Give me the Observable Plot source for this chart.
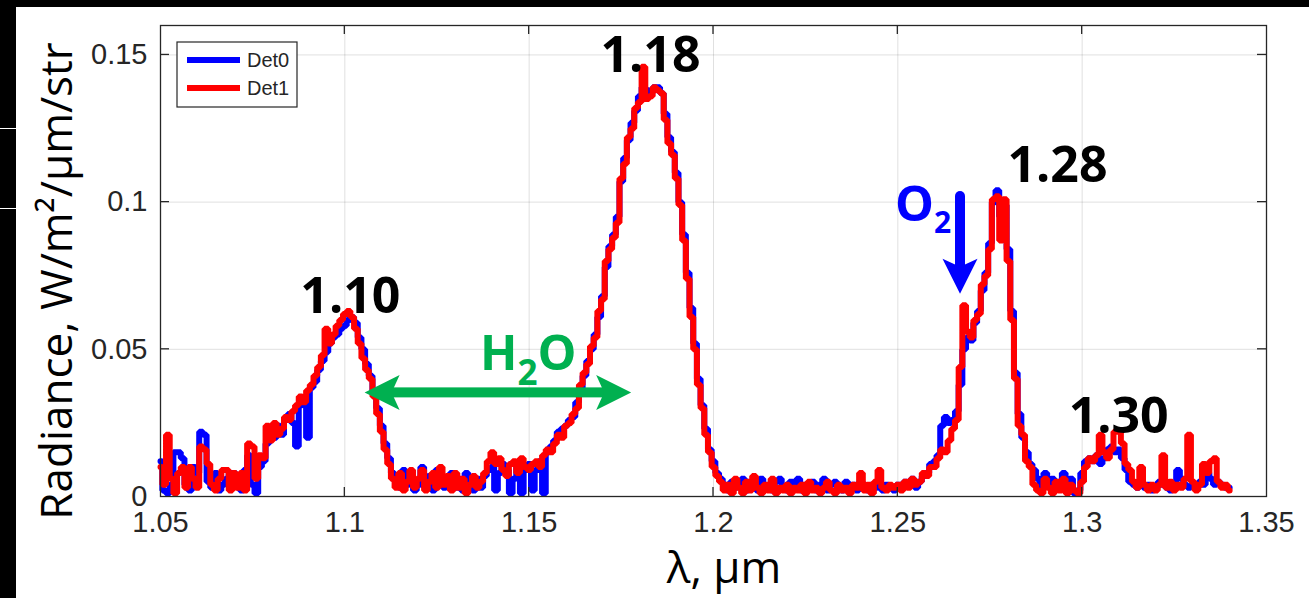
<!DOCTYPE html>
<html>
<head>
<meta charset="utf-8">
<script src="https://cdn.jsdelivr.net/npm/d3@7"></script>
<script src="https://cdn.jsdelivr.net/npm/@observablehq/plot@0.6"></script>
<style>
  html, body { margin: 0; padding: 0; }
  body { width: 1309px; height: 598px; background: #000; position: relative; overflow: hidden; }
  #panel { position: absolute; left: 16px; top: 7px; width: 1293px; height: 591px; background: #fff; }
  .wline { position: absolute; left: 0; width: 16px; height: 1px; background: #fff; }
  #chart { position: absolute; left: 0; top: 0; }
</style>
</head>
<body>
<div id="panel"></div>
<div class="wline" style="top:128px"></div>
<div class="wline" style="top:208px"></div>
<div id="chart"></div>
<script>
// ---- data (one value per 0.001 µm, 1.050 … 1.340 µm) ----
const wavelengthStart = 1.05;   // µm
const wavelengthStep = 0.001;   // µm

const det0 = [
  0.012,0.002,0.001,0.004,0.015,0.015,0.013,0.004,0.002,0.010,
  0.008,0.022,0.021,0.005,0.003,0.008,0.002,0.004,0.006,0.008,
  0.008,0.006,0.002,0.009,0.014,0.004,0.001,0.010,0.012,0.018,
  0.022,0.020,0.024,0.021,0.026,0.028,0.025,0.017,0.031,0.033,
  0.020,0.037,0.039,0.043,0.046,0.049,0.052,0.054,0.055,0.057,
  0.058,0.060,0.061,0.059,0.054,0.050,0.045,0.041,0.035,0.030,
  0.024,0.018,0.013,0.008,0.005,0.003,0.009,0.004,0.007,0.002,
  0.004,0.010,0.003,0.007,0.002,0.009,0.005,0.003,0.006,0.008,
  0.003,0.006,0.002,0.008,0.005,0.002,0.006,0.003,0.007,0.009,
  0.010,0.002,0.008,0.011,0.009,0.001,0.006,0.010,0.001,0.009,
  0.011,0.002,0.009,0.012,0.001,0.015,0.017,0.019,0.022,0.023,
  0.024,0.026,0.027,0.032,0.036,0.041,0.046,0.050,0.055,0.061,
  0.068,0.078,0.085,0.089,0.095,0.107,0.115,0.121,0.127,0.131,
  0.136,0.139,0.138,0.137,0.139,0.139,0.137,0.130,0.122,0.117,
  0.110,0.100,0.089,0.076,0.064,0.052,0.040,0.031,0.023,0.016,
  0.012,0.008,0.006,0.004,0.002,0.005,0.003,0.004,0.006,0.002,
  0.005,0.003,0.002,0.006,0.003,0.004,0.002,0.005,0.006,0.003,
  0.002,0.005,0.003,0.006,0.002,0.004,0.003,0.005,0.002,0.004,
  0.006,0.002,0.004,0.005,0.003,0.002,0.005,0.003,0.004,0.002,
  0.005,0.003,0.002,0.004,0.003,0.005,0.002,0.004,0.003,0.002,
  0.004,0.003,0.005,0.004,0.006,0.003,0.005,0.007,0.008,0.011,
  0.012,0.014,0.024,0.027,0.025,0.026,0.029,0.038,0.050,0.054,
  0.053,0.059,0.063,0.070,0.076,0.086,0.100,0.104,0.095,0.099,
  0.084,0.063,0.042,0.028,0.020,0.015,0.011,0.009,0.006,0.003,
  0.008,0.004,0.006,0.003,0.005,0.008,0.003,0.006,0.001,0.002,
  0.008,0.012,0.013,0.012,0.014,0.011,0.013,0.016,0.017,0.015,
  0.016,0.013,0.009,0.005,0.004,0.003,0.005,0.003,0.004,0.002,
  0.003,0.005,0.004,0.003,0.002,0.004,0.009,0.006,0.004,0.003,
  0.004,0.003,0.005,0.004,0.008,0.006,0.004,0.005,0.004,0.003,
  0.003
];

const det1 = [
  0.010,0.004,0.021,0.006,0.001,0.008,0.010,0.003,0.010,0.006,
  0.003,0.017,0.016,0.011,0.004,0.002,0.006,0.009,0.009,0.002,
  0.008,0.003,0.008,0.002,0.018,0.017,0.006,0.014,0.013,0.024,
  0.019,0.025,0.021,0.023,0.027,0.026,0.029,0.031,0.034,0.032,
  0.036,0.038,0.041,0.044,0.048,0.057,0.052,0.055,0.058,0.060,
  0.062,0.063,0.061,0.057,0.052,0.047,0.043,0.040,0.034,0.028,
  0.022,0.016,0.011,0.006,0.003,0.008,0.002,0.005,0.009,0.003,
  0.006,0.009,0.002,0.005,0.008,0.003,0.010,0.004,0.007,0.002,
  0.008,0.003,0.006,0.001,0.004,0.007,0.003,0.005,0.008,0.012,
  0.015,0.011,0.013,0.009,0.007,0.011,0.012,0.008,0.013,0.010,
  0.009,0.011,0.012,0.010,0.014,0.016,0.015,0.018,0.021,0.020,
  0.024,0.025,0.028,0.030,0.038,0.042,0.045,0.051,0.054,0.063,
  0.067,0.080,0.084,0.088,0.093,0.108,0.113,0.122,0.125,0.132,
  0.134,0.146,0.135,0.136,0.139,0.138,0.137,0.128,0.120,0.116,
  0.108,0.099,0.087,0.074,0.061,0.050,0.038,0.030,0.021,0.015,
  0.010,0.007,0.005,0.002,0.004,0.001,0.006,0.003,0.001,0.005,
  0.002,0.007,0.003,0.001,0.004,0.002,0.006,0.001,0.003,0.002,
  0.004,0.001,0.003,0.002,0.004,0.001,0.005,0.002,0.003,0.001,
  0.003,0.005,0.002,0.001,0.004,0.002,0.003,0.001,0.004,0.003,
  0.008,0.002,0.004,0.001,0.005,0.009,0.003,0.002,0.004,0.003,
  0.004,0.002,0.005,0.003,0.006,0.004,0.005,0.008,0.007,0.010,
  0.010,0.013,0.016,0.015,0.019,0.023,0.026,0.044,0.065,0.056,
  0.054,0.060,0.062,0.072,0.075,0.084,0.101,0.102,0.087,0.101,
  0.080,0.060,0.040,0.024,0.021,0.012,0.010,0.004,0.002,0.001,
  0.006,0.003,0.001,0.005,0.002,0.006,0.001,0.004,0.002,0.001,
  0.005,0.010,0.013,0.012,0.014,0.021,0.015,0.013,0.016,0.022,
  0.022,0.018,0.011,0.009,0.005,0.003,0.010,0.004,0.002,0.004,
  0.002,0.004,0.014,0.003,0.005,0.002,0.004,0.003,0.006,0.021,
  0.005,0.002,0.004,0.011,0.008,0.012,0.013,0.005,0.003,0.004,
  0.002
];

const seriesNames = ["Det0", "Det1"];
const seriesColors = ["#0000ff", "#ff0000"];

const xTicks = [1.05, 1.1, 1.15, 1.2, 1.25, 1.3, 1.35];
const xTickLabels = ["1.05", "1.1", "1.15", "1.2", "1.25", "1.3", "1.35"];
const yTicks = [0, 0.05, 0.1, 0.15];
const yTickLabels = ["0", "0.05", "0.1", "0.15"];

const peakLabels = ["1.10", "1.18", "1.28", "1.30"];
const peakLabelX = [1.1015, 1.1829, 1.2933, 1.3099];
const peakLabelY = [0.0623, 0.1443, 0.1070, 0.0217];

const h2oArrowX = [1.1055, 1.1778];
const h2oArrowY = 0.0352;
const h2oLabelPos = [1.1368, 0.0427];
const o2ArrowX = 1.267;
const o2ArrowY = [0.1029, 0.0687];
const o2LabelPos = [1.2494, 0.0935];

const xLabel = "λ, µm";
const yLabel = "Radiance, W/m²/µm/str";

// ---- table ----
const wavelength = det0.map((_, i) => +(wavelengthStart + i * wavelengthStep).toFixed(3));
const rows = wavelength.map((w, i) => ({w, det0: det0[i], det1: det1[i]}));

const tickFont = "'Liberation Sans', Arial, sans-serif";
const annFont = "'Open Sans', 'Noto Sans', sans-serif";

const plot = Plot.plot({
  width: 1309,
  height: 598,
  marginLeft: 160,
  marginRight: 43,
  marginTop: 25,
  marginBottom: 102,
  style: {background: "transparent", overflow: "visible", fontFamily: tickFont},
  x: {domain: [1.05, 1.35]},
  y: {domain: [0, 0.16]},
  marks: [
    Plot.gridX(xTicks, {stroke: "#262626", strokeOpacity: 0.14, strokeWidth: 1}),
    Plot.gridY(yTicks, {stroke: "#262626", strokeOpacity: 0.14, strokeWidth: 1}),
    Plot.line(rows, {x: "w", y: "det0", stroke: seriesColors[0], strokeWidth: 6, curve: "step", strokeLinejoin: "miter"}),
    Plot.line(rows, {x: "w", y: "det1", stroke: seriesColors[1], strokeWidth: 6, curve: "step", strokeLinejoin: "miter"}),
    Plot.frame({stroke: "#262626", strokeWidth: 1.3}),
    Plot.axisX(xTicks, {tickSize: 0, tickPadding: 15, fontSize: 29, fill: "#262626",
      tickFormat: (d) => xTickLabels[xTicks.indexOf(d)], label: null}),
    Plot.axisY(yTicks, {tickSize: 0, tickPadding: 13, fontSize: 29, fill: "#262626",
      tickFormat: (d) => yTickLabels[yTicks.indexOf(d)], label: null}),
    Plot.text(peakLabels, {
      x: (d, i) => peakLabelX[i], y: (d, i) => peakLabelY[i], text: (d) => d,
      fontSize: 50, fontWeight: 700, fontFamily: annFont, fill: "#000",
      textAnchor: "middle", lineAnchor: "bottom"
    })
  ]
});

document.getElementById("chart").appendChild(plot);

const sx = plot.scale("x"), sy = plot.scale("y");
const X = (v) => sx.apply(v), Y = (v) => sy.apply(v);
const svg = d3.select(plot);
const x0 = X(1.05), x1 = X(1.35), yb = Y(0), yt = sy.range[1];

// inward ticks (MATLAB style)
const tg = svg.append("g").attr("stroke", "#262626").attr("stroke-width", 1.3);
xTicks.slice(1, -1).forEach((t) => {
  tg.append("line").attr("x1", X(t)).attr("x2", X(t)).attr("y1", yb).attr("y2", yb - 9);
  tg.append("line").attr("x1", X(t)).attr("x2", X(t)).attr("y1", yt).attr("y2", yt + 9);
});
yTicks.slice(1).forEach((t) => {
  tg.append("line").attr("x1", x0).attr("x2", x0 + 9).attr("y1", Y(t)).attr("y2", Y(t));
  tg.append("line").attr("x1", x1).attr("x2", x1 - 9).attr("y1", Y(t)).attr("y2", Y(t));
});

// legend
const lg = svg.append("g");
lg.append("rect").attr("x", 177).attr("y", 42).attr("width", 120).attr("height", 65)
  .attr("fill", "#fff").attr("stroke", "#262626").attr("stroke-width", 1.2);
seriesNames.forEach((name, i) => {
  const yy = 60 + i * 28;
  lg.append("line").attr("x1", 187).attr("x2", 240).attr("y1", yy).attr("y2", yy)
    .attr("stroke", seriesColors[i]).attr("stroke-width", 6);
  lg.append("text").attr("x", 247).attr("y", yy).attr("dy", "0.36em").attr("text-anchor", "start")
    .attr("font-family", tickFont).attr("font-size", 20).attr("fill", "#262626").text(name);
});

// H2O double arrow
const green = "#00b050";
const ga = svg.append("g").attr("fill", green);
{
  const ax1 = X(h2oArrowX[0]), ax2 = X(h2oArrowX[1]), ay = Y(h2oArrowY);
  const hl = 35, hw = 17.5, notch = 27, sw = 10;
  ga.append("rect").attr("x", ax1 + 20).attr("y", ay - sw / 2).attr("width", ax2 - ax1 - 40).attr("height", sw);
  ga.append("path").attr("d", `M${ax1},${ay}L${ax1 + hl},${ay - hw}L${ax1 + notch},${ay}L${ax1 + hl},${ay + hw}Z`);
  ga.append("path").attr("d", `M${ax2},${ay}L${ax2 - hl},${ay - hw}L${ax2 - notch},${ay}L${ax2 - hl},${ay + hw}Z`);
}
const h2o = svg.append("text").attr("x", X(h2oLabelPos[0])).attr("y", Y(h2oLabelPos[1]))
  .attr("text-anchor", "start")
  .attr("font-family", annFont).attr("font-weight", 700).attr("fill", green);
h2o.append("tspan").attr("font-size", 49).text("H");
h2o.append("tspan").attr("font-size", 35).attr("dy", 15).text("2");
h2o.append("tspan").attr("font-size", 49).attr("dy", -15).text("O");

// O2 arrow
const blue = "#0000ff";
{
  const bx = X(o2ArrowX), by1 = Y(o2ArrowY[0]), by2 = Y(o2ArrowY[1]);
  const hl = 35, hw = 17.5, notch = 27;
  svg.append("line").attr("x1", bx).attr("x2", bx).attr("y1", by1 + 3).attr("y2", by2 - 22)
    .attr("stroke", blue).attr("stroke-width", 10).attr("stroke-linecap", "round");
  svg.append("path").attr("fill", blue)
    .attr("d", `M${bx},${by2}L${bx - hw},${by2 - hl}L${bx},${by2 - notch}L${bx + hw},${by2 - hl}Z`);
}
const o2 = svg.append("text").attr("x", X(o2LabelPos[0])).attr("y", Y(o2LabelPos[1]))
  .attr("text-anchor", "start")
  .attr("font-family", annFont).attr("font-weight", 700).attr("fill", blue);
o2.append("tspan").attr("font-size", 49).text("O");
o2.append("tspan").attr("font-size", 30).attr("dy", 12).text("2");

// axis titles
svg.append("text").attr("x", 724).attr("y", 583).attr("text-anchor", "middle")
  .attr("font-family", annFont).attr("font-size", 44).attr("fill", "#000").text(xLabel);
svg.append("text").attr("transform", "translate(72,281) rotate(-90)").attr("text-anchor", "middle")
  .attr("font-family", annFont).attr("font-size", 44).attr("fill", "#000").text(yLabel);
</script>
</body>
</html>
